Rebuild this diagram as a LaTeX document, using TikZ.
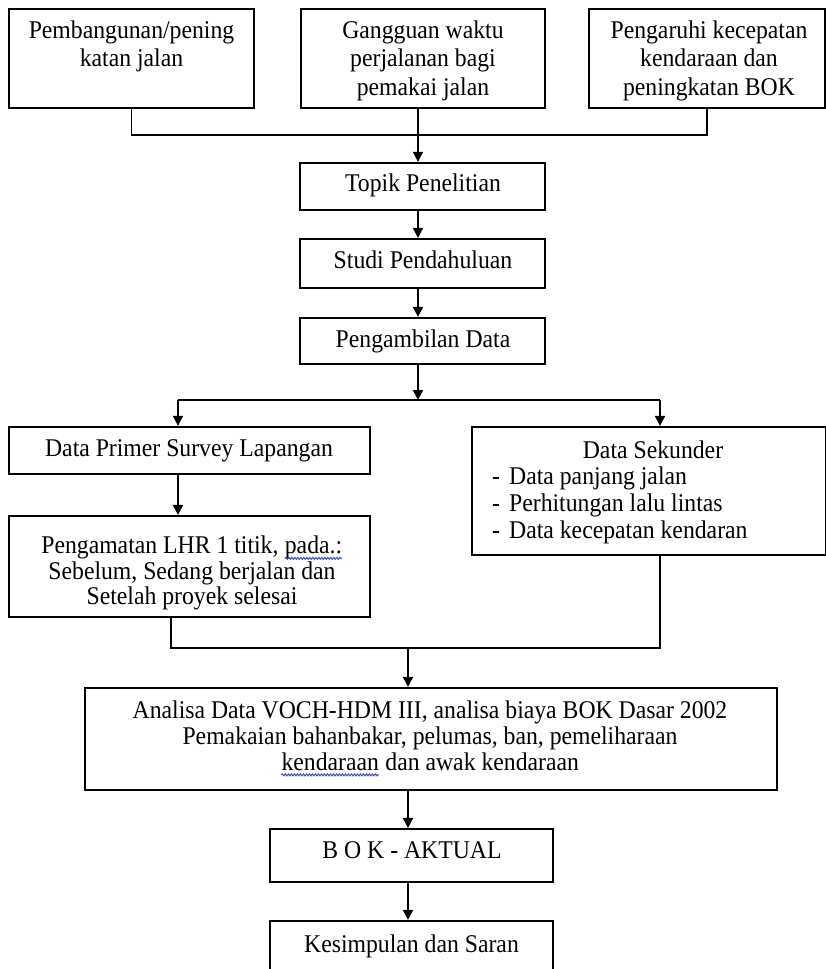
\documentclass[tikz,border=0pt]{standalone}
\usepackage{fontspec}
\setmainfont{Liberation Serif}[FakeStretch=0.93]
\usetikzlibrary{arrows.meta,calc,decorations.pathmorphing}
\definecolor{spellblue}{RGB}{60,80,200}
\newcommand\spellwave[1]{\tikz[baseline=(sw.base),x=1pt,y=1pt]{\node[inner sep=0pt,outer sep=0pt,anchor=base] (sw) at (0,0) {#1};\draw[spellblue, line width=1pt, decorate, decoration={snake, amplitude=1pt, segment length=3pt}] ([yshift=-4.5pt]sw.base west) -- ([yshift=-4.5pt]sw.base east);}}
\tikzset{
  box/.style={draw, line width=2.2pt, rectangle, inner sep=0pt},
  txt/.style={inner sep=0pt, align=center, font=\fontsize{25.5}{28.5}\selectfont},
  conn/.style={line width=1.9pt},
  arr/.style={conn, -{Triangle[length=10pt,width=10pt]}},
}
\begin{document}
\begin{tikzpicture}[x=1pt,y=-1pt]
\useasboundingbox (0,0) rectangle (826,969);
\fill[white] (0,0) rectangle (826,969);
\begin{scope}
\clip (0,0) rectangle (826,969);
% boxes
\node[box, minimum width=245pt, minimum height=99pt] (b1) at (131.5,58.5) {};
\node[box, minimum width=244pt, minimum height=99pt] (b2) at (423,58.5) {};
\node[box, minimum width=236pt, minimum height=99pt] (b3) at (707,58.5) {};
\node[box, minimum width=245pt, minimum height=47pt] (topik) at (422.5,186.5) {};
\node[box, minimum width=245pt, minimum height=49pt] (studi) at (422.5,263.5) {};
\node[box, minimum width=245pt, minimum height=46pt] (ambil) at (422.5,341) {};
\node[box, minimum width=361pt, minimum height=47pt] (primer) at (189.5,450.5) {};
\node[box, minimum width=361pt, minimum height=101pt] (pengamatan) at (189.5,566.5) {};
\node[box, minimum width=354pt, minimum height=128pt] (sekunder) at (649,491) {};
\node[box, minimum width=692pt, minimum height=102pt] (analisa) at (431,739) {};
\node[box, minimum width=283pt, minimum height=53pt] (bok) at (411.5,855.5) {};
\node[box, minimum width=283pt, minimum height=70pt] (kesim) at (411.5,956) {};
% texts
\node[txt, anchor=north] (t1) at (131.5,18) {\strut Pembangunan/pening\\katan jalan};
\node[txt, anchor=north] (t2) at (423,18) {\strut Gangguan waktu\\perjalanan bagi\\pemakai jalan};
\node[txt, anchor=north] (t3) at (709,18) {\strut Pengaruhi kecepatan\\kendaraan dan\\peningkatan BOK};
\node[txt, anchor=base] (ttopik) at (423,191) {Topik Penelitian};
\node[txt, anchor=base] (tstudi) at (423,268) {Studi Pendahuluan};
\node[txt, anchor=base] (tambil) at (423,347) {Pengambilan Data};
\node[txt, anchor=base] (tprimer) at (189,456) {Data Primer Survey Lapangan};
\node[txt, anchor=north, font=\fontsize{25.5}{24.5}\selectfont] (tpeng) at (192,536) {\strut Pengamatan LHR 1 titik, \spellwave{pada.:}\\Sebelum, Sedang berjalan dan\\Setelah proyek selesai};
\node[txt, anchor=base] (tsek) at (653,458) {Data Sekunder};
\node[txt, anchor=north west, align=left, font=\fontsize{25.5}{27}\selectfont] (tseklist) at (492,465) {\strut\makebox[17pt][l]{-}Data panjang jalan\\\makebox[17pt][l]{-}Perhitungan lalu lintas\\\makebox[17pt][l]{-}Data kecepatan kendaran};
\node[txt, anchor=north, font=\fontsize{25.5}{26}\selectfont] (tanalisa) at (430,700) {\strut Analisa Data VOCH-HDM III, analisa biaya BOK Dasar 2002\\Pemakaian bahanbakar, pelumas, ban, pemeliharaan\\\spellwave{kendaraan} dan awak kendaraan};
\node[txt, anchor=base] (tbok) at (412,858) {B O K - AKTUAL};
\node[txt, anchor=base] (tkesim) at (411.5,952) {Kesimpulan dan Saran};
% connectors
\coordinate (jtop) at (418,135);
\draw[conn] (b1.south) |- (jtop) -| (b3.south);
\draw[arr] (b2.south -| jtop) -- (topik.north -| jtop);
\draw[arr] (topik.south -| jtop) -- (studi.north -| jtop);
\draw[arr] (studi.south -| jtop) -- (ambil.north -| jtop);
\coordinate (split) at (418,400);
\coordinate (sL) at (178,400);
\coordinate (sR) at (660,400);
\draw[arr] (ambil.south -| split) -- (split);
\draw[conn] (sL) -- (sR);
\draw[arr] (sL) -- (primer.north -| sL);
\draw[arr] (sR) -- (sekunder.north -| sR);
\draw[arr] (primer.south -| sL) -- (pengamatan.north -| sL);
\coordinate (jL) at (171,648);
\coordinate (jR) at (660,648);
\coordinate (jM) at (408,648);
\draw[conn] (pengamatan.south -| jL) -- (jL) -- (jR) -- (sekunder.south -| jR);
\draw[arr] (jM) -- (analisa.north -| jM);
\draw[arr] (analisa.south -| jM) -- (bok.north -| jM);
\draw[arr] (bok.south -| jM) -- (kesim.north -| jM);
\end{scope}
\end{tikzpicture}
\end{document}
